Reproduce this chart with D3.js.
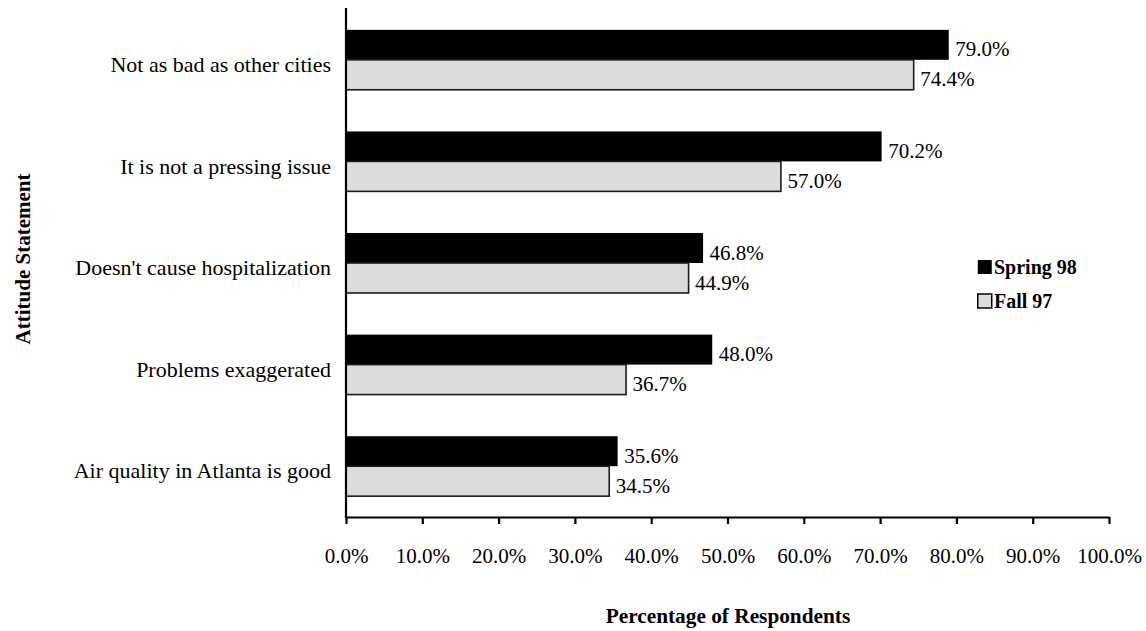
<!DOCTYPE html>
<html>
<head>
<meta charset="utf-8">
<script src="https://d3js.org/d3.v7.min.js"></script>
<style>
  body { margin: 0; background: #fff; }
  svg { display: block; font-family: "Liberation Serif", "Times New Roman", serif; }
</style>
</head>
<body>
<svg id="chart" width="1146" height="631"></svg>
<script>
// Attitude statements, top to bottom
const categories = [
  "Not as bad as other cities",
  "It is not a pressing issue",
  "Doesn't cause hospitalization",
  "Problems exaggerated",
  "Air quality in Atlanta is good"
];
const seriesNames = ["Spring 98", "Fall 97"];
const spring98 = [79.0, 70.2, 46.8, 48.0, 35.6];
const fall97 = [74.4, 57.0, 44.9, 36.7, 34.5];
const xTicks = [0, 10, 20, 30, 40, 50, 60, 70, 80, 90, 100];

(function () {
const svg = d3.select("#chart");
const plotLeft = 346, plotRight = 1109, plotTop = 9, plotBottom = 517;
const fontSize = 21;

const x = d3.scaleLinear().domain([0, 100]).range([plotLeft, plotRight]);
const y = d3.scaleBand().domain(categories).range([plotTop, plotBottom])
  .paddingInner(0.41).paddingOuter(0.205);
const sub = d3.scaleBand().domain(seriesNames).range([0, y.bandwidth()]);

const fills = { "Spring 98": "#000000", "Fall 97": "#dcdcdc" };
const rows = categories.map((c, i) => ({ c, vals: [
  { s: "Spring 98", v: spring98[i] },
  { s: "Fall 97", v: fall97[i] }
]}));

const g = svg.append("g");
rows.forEach(r => {
  r.vals.forEach(d => {
    const y0 = y(r.c) + sub(d.s);
    g.append("rect")
      .attr("x", x(0))
      .attr("y", y0)
      .attr("width", x(d.v) - x(0))
      .attr("height", sub.bandwidth())
      .attr("fill", fills[d.s])
      .attr("stroke", d.s === "Fall 97" ? "#1a1a1a" : "none")
      .attr("stroke-width", 1.6);
    g.append("text")
      .attr("x", x(d.v) + 6.5)
      .attr("y", y0 + sub.bandwidth() / 2)
      .attr("dy", "0.55em")
      .attr("font-size", fontSize)
      .attr("fill", "#000")
      .text(d.v.toFixed(1) + "%");
  });
});

// x axis
const xAxis = d3.axisBottom(x).tickValues(xTicks)
  .tickFormat(d => d.toFixed(1) + "%").tickSize(7).tickSizeOuter(0).tickPadding(24);
const xg = svg.append("g").attr("transform", `translate(0,${plotBottom})`).call(xAxis);
xg.select(".domain").attr("stroke", "#000").attr("stroke-width", 2.2);
xg.selectAll(".tick line").attr("stroke", "#000").attr("stroke-width", 2.2);
xg.selectAll(".tick text").attr("font-size", fontSize).attr("font-family", "Liberation Serif, serif").attr("fill", "#000");

// y axis line
svg.append("line").attr("x1", plotLeft).attr("x2", plotLeft).attr("y1", 8).attr("y2", plotBottom + 1)
  .attr("stroke", "#000").attr("stroke-width", 2.2);

// category labels
svg.append("g").selectAll("text").data(categories).join("text")
  .attr("x", 331)
  .attr("y", d => y(d) + y.bandwidth() / 2)
  .attr("dy", "0.55em")
  .attr("text-anchor", "end")
  .attr("font-size", 22)
  .text(d => d);

// axis titles
svg.append("text")
  .attr("transform", "translate(23,259) rotate(-90)")
  .attr("dy", "0.35em")
  .attr("text-anchor", "middle")
  .attr("font-size", fontSize)
  .attr("font-weight", "bold")
  .text("Attitude Statement");
svg.append("text")
  .attr("x", 728).attr("y", 623)
  .attr("text-anchor", "middle")
  .attr("font-size", 21.3)
  .attr("font-weight", "bold")
  .text("Percentage of Respondents");

// legend
const lg = svg.append("g").attr("transform", "translate(977,267)");
seriesNames.forEach((s, i) => {
  const row = lg.append("g").attr("transform", `translate(0,${i * 34})`);
  row.append("rect").attr("x", 0.75).attr("y", -7).attr("width", 14).attr("height", 14)
    .attr("fill", fills[s]).attr("stroke", "#000").attr("stroke-width", s === "Fall 97" ? 1.5 : 0);
  row.append("text").attr("x", 17).attr("y", 0).attr("dy", "0.35em")
    .attr("font-size", 20).attr("font-weight", "bold").text(s);
});
})();
</script>
</body>
</html>
